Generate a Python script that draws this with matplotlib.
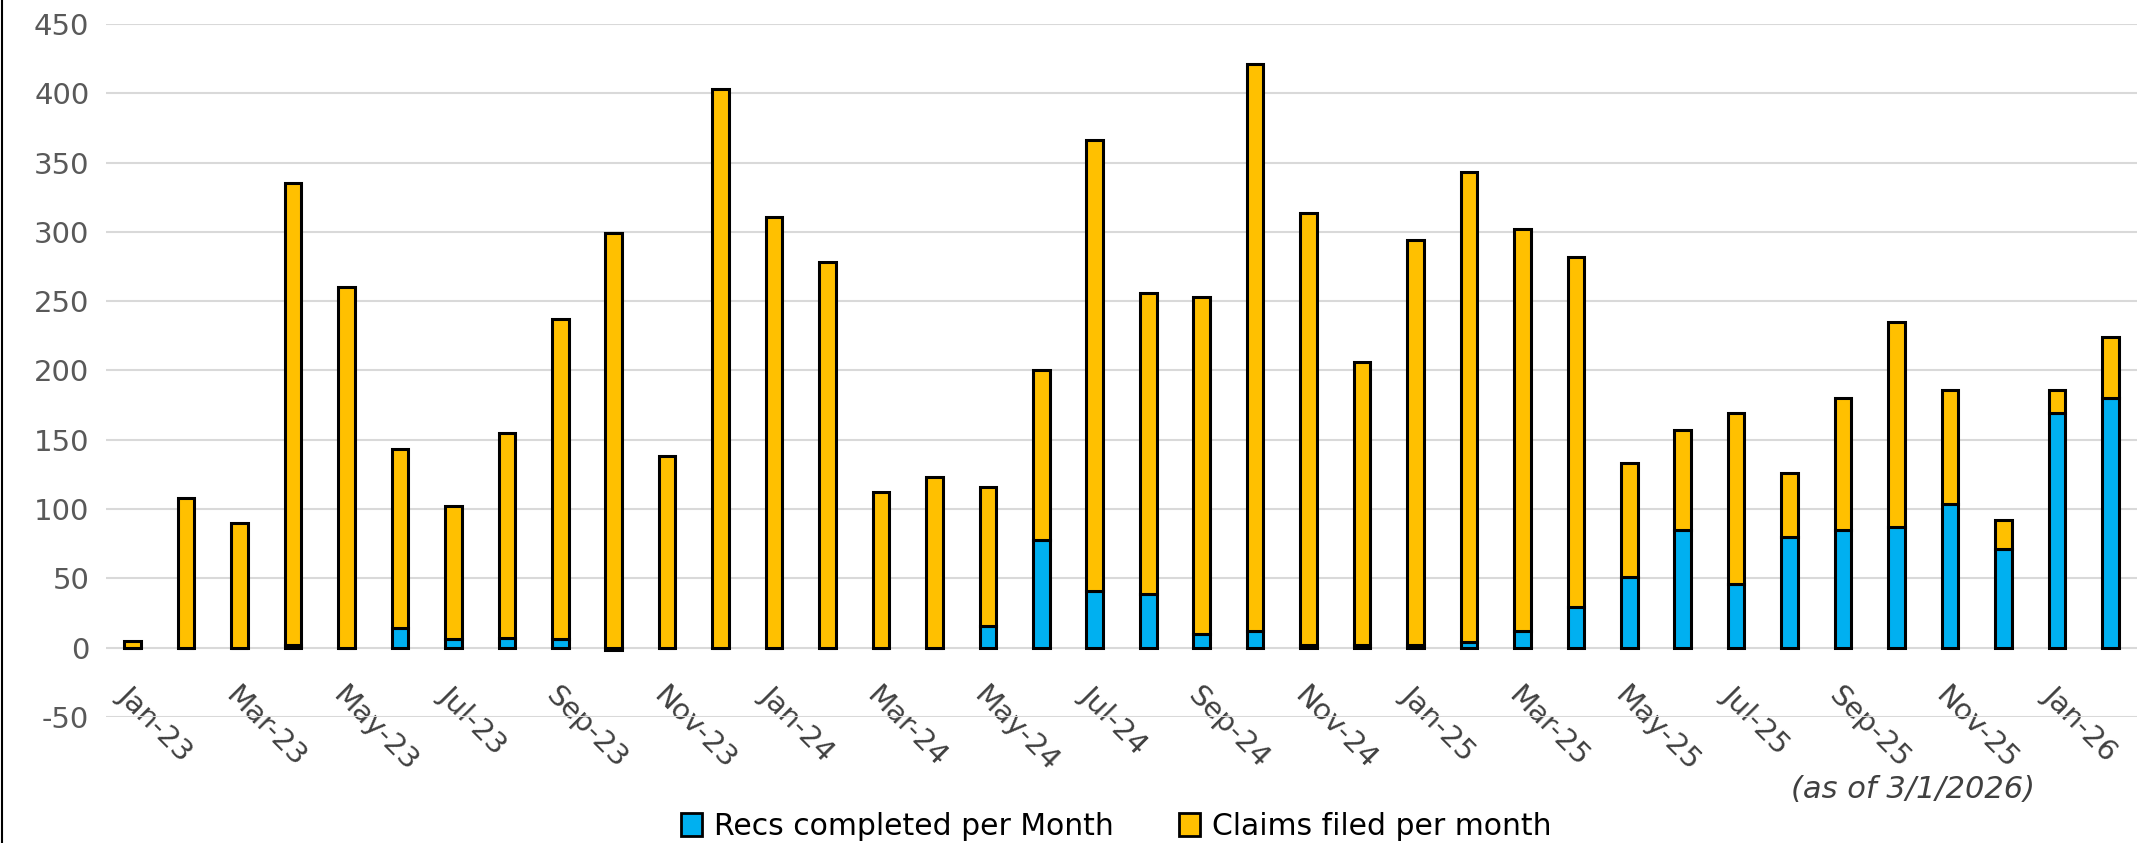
import numpy as np
import matplotlib.pyplot as plt
from matplotlib.lines import Line2D
from matplotlib.patches import Patch

plt.rcParams['axes.unicode_minus'] = False

months = ['Jan-23', 'Feb-23', 'Mar-23', 'Apr-23', 'May-23', 'Jun-23', 'Jul-23', 'Aug-23',
          'Sep-23', 'Oct-23', 'Nov-23', 'Dec-23', 'Jan-24', 'Feb-24', 'Mar-24', 'Apr-24',
          'May-24', 'Jun-24', 'Jul-24', 'Aug-24', 'Sep-24', 'Oct-24', 'Nov-24', 'Dec-24',
          'Jan-25', 'Feb-25', 'Mar-25', 'Apr-25', 'May-25', 'Jun-25', 'Jul-25', 'Aug-25',
          'Sep-25', 'Oct-25', 'Nov-25', 'Dec-25', 'Jan-26', 'Feb-26']

recs = [0, 0, 0, 2, 0, 14, 6, 7,
        6, -2, 0, 0, 0, 0, 0, 0,
        16, 78, 41, 39, 10, 12, 2, 2,
        2, 4, 12, 29, 51, 85, 46, 80,
        85, 87, 104, 71, 169, 180]

claims = [5, 108, 90, 333, 260, 129, 96, 148,
          231, 299, 138, 403, 311, 278, 112, 123,
          100, 122, 325, 217, 243, 409, 312, 204,
          292, 339, 290, 253, 82, 72, 123, 46,
          95, 148, 82, 21, 17, 44]

blue = '#00B0F0'
orange = '#FFC000'

x = np.arange(len(months))
recs = np.array(recs)
claims = np.array(claims)

fig = plt.figure(figsize=(21.47, 8.43), dpi=100)
ax = fig.add_axes([106 / 2147, 0.1495, (2137 - 106) / 2147, 0.822])

w = 0.31
ax.bar(x, recs, width=w, color=blue, edgecolor='black', linewidth=2.2, zorder=3)
ax.bar(x, claims, width=w, bottom=np.maximum(recs, 0), color=orange,
       edgecolor='black', linewidth=2.2, zorder=3)

ax.set_xlim(-0.5, len(months) - 0.5)
ax.set_ylim(-50, 450)
ax.set_yticks(range(-50, 451, 50))
ax.yaxis.grid(True, color='#D9D9D9', linewidth=1.5, zorder=0)
ax.set_axisbelow(True)

for s in ['top', 'right', 'left']:
    ax.spines[s].set_visible(False)
ax.spines['bottom'].set_position(('data', 0))
ax.spines['bottom'].set_color('none')

ax.set_xticks(x[::2])
ax.set_xticklabels(months[::2], rotation=-45, ha='left', va='top',
                   rotation_mode='anchor', fontsize=21, color='#404040')
ax.tick_params(axis='x', length=0, pad=24)
ax.tick_params(axis='y', length=0, pad=12, labelsize=21, labelcolor='#595959')

handles = [Patch(facecolor=blue, edgecolor='black', linewidth=2),
           Patch(facecolor=orange, edgecolor='black', linewidth=2)]
fig.legend(handles, ['Recs completed per Month', 'Claims filed per month'],
           loc='center', bbox_to_anchor=(0.52, 0.02), ncol=2, frameon=False,
           fontsize=21.5, handlelength=0.7, handleheight=0.8, columnspacing=2.2,
           handletextpad=0.4)

fig.text(0.948, 0.064, '(as of 3/1/2026)', fontsize=22, style='italic',
         ha='right', va='center', color='#404040')

fig.add_artist(Line2D([0.0008, 0.0008], [0, 1], color='black', linewidth=1.5,
                      transform=fig.transFigure))

fig.savefig('out.png', dpi=100)
